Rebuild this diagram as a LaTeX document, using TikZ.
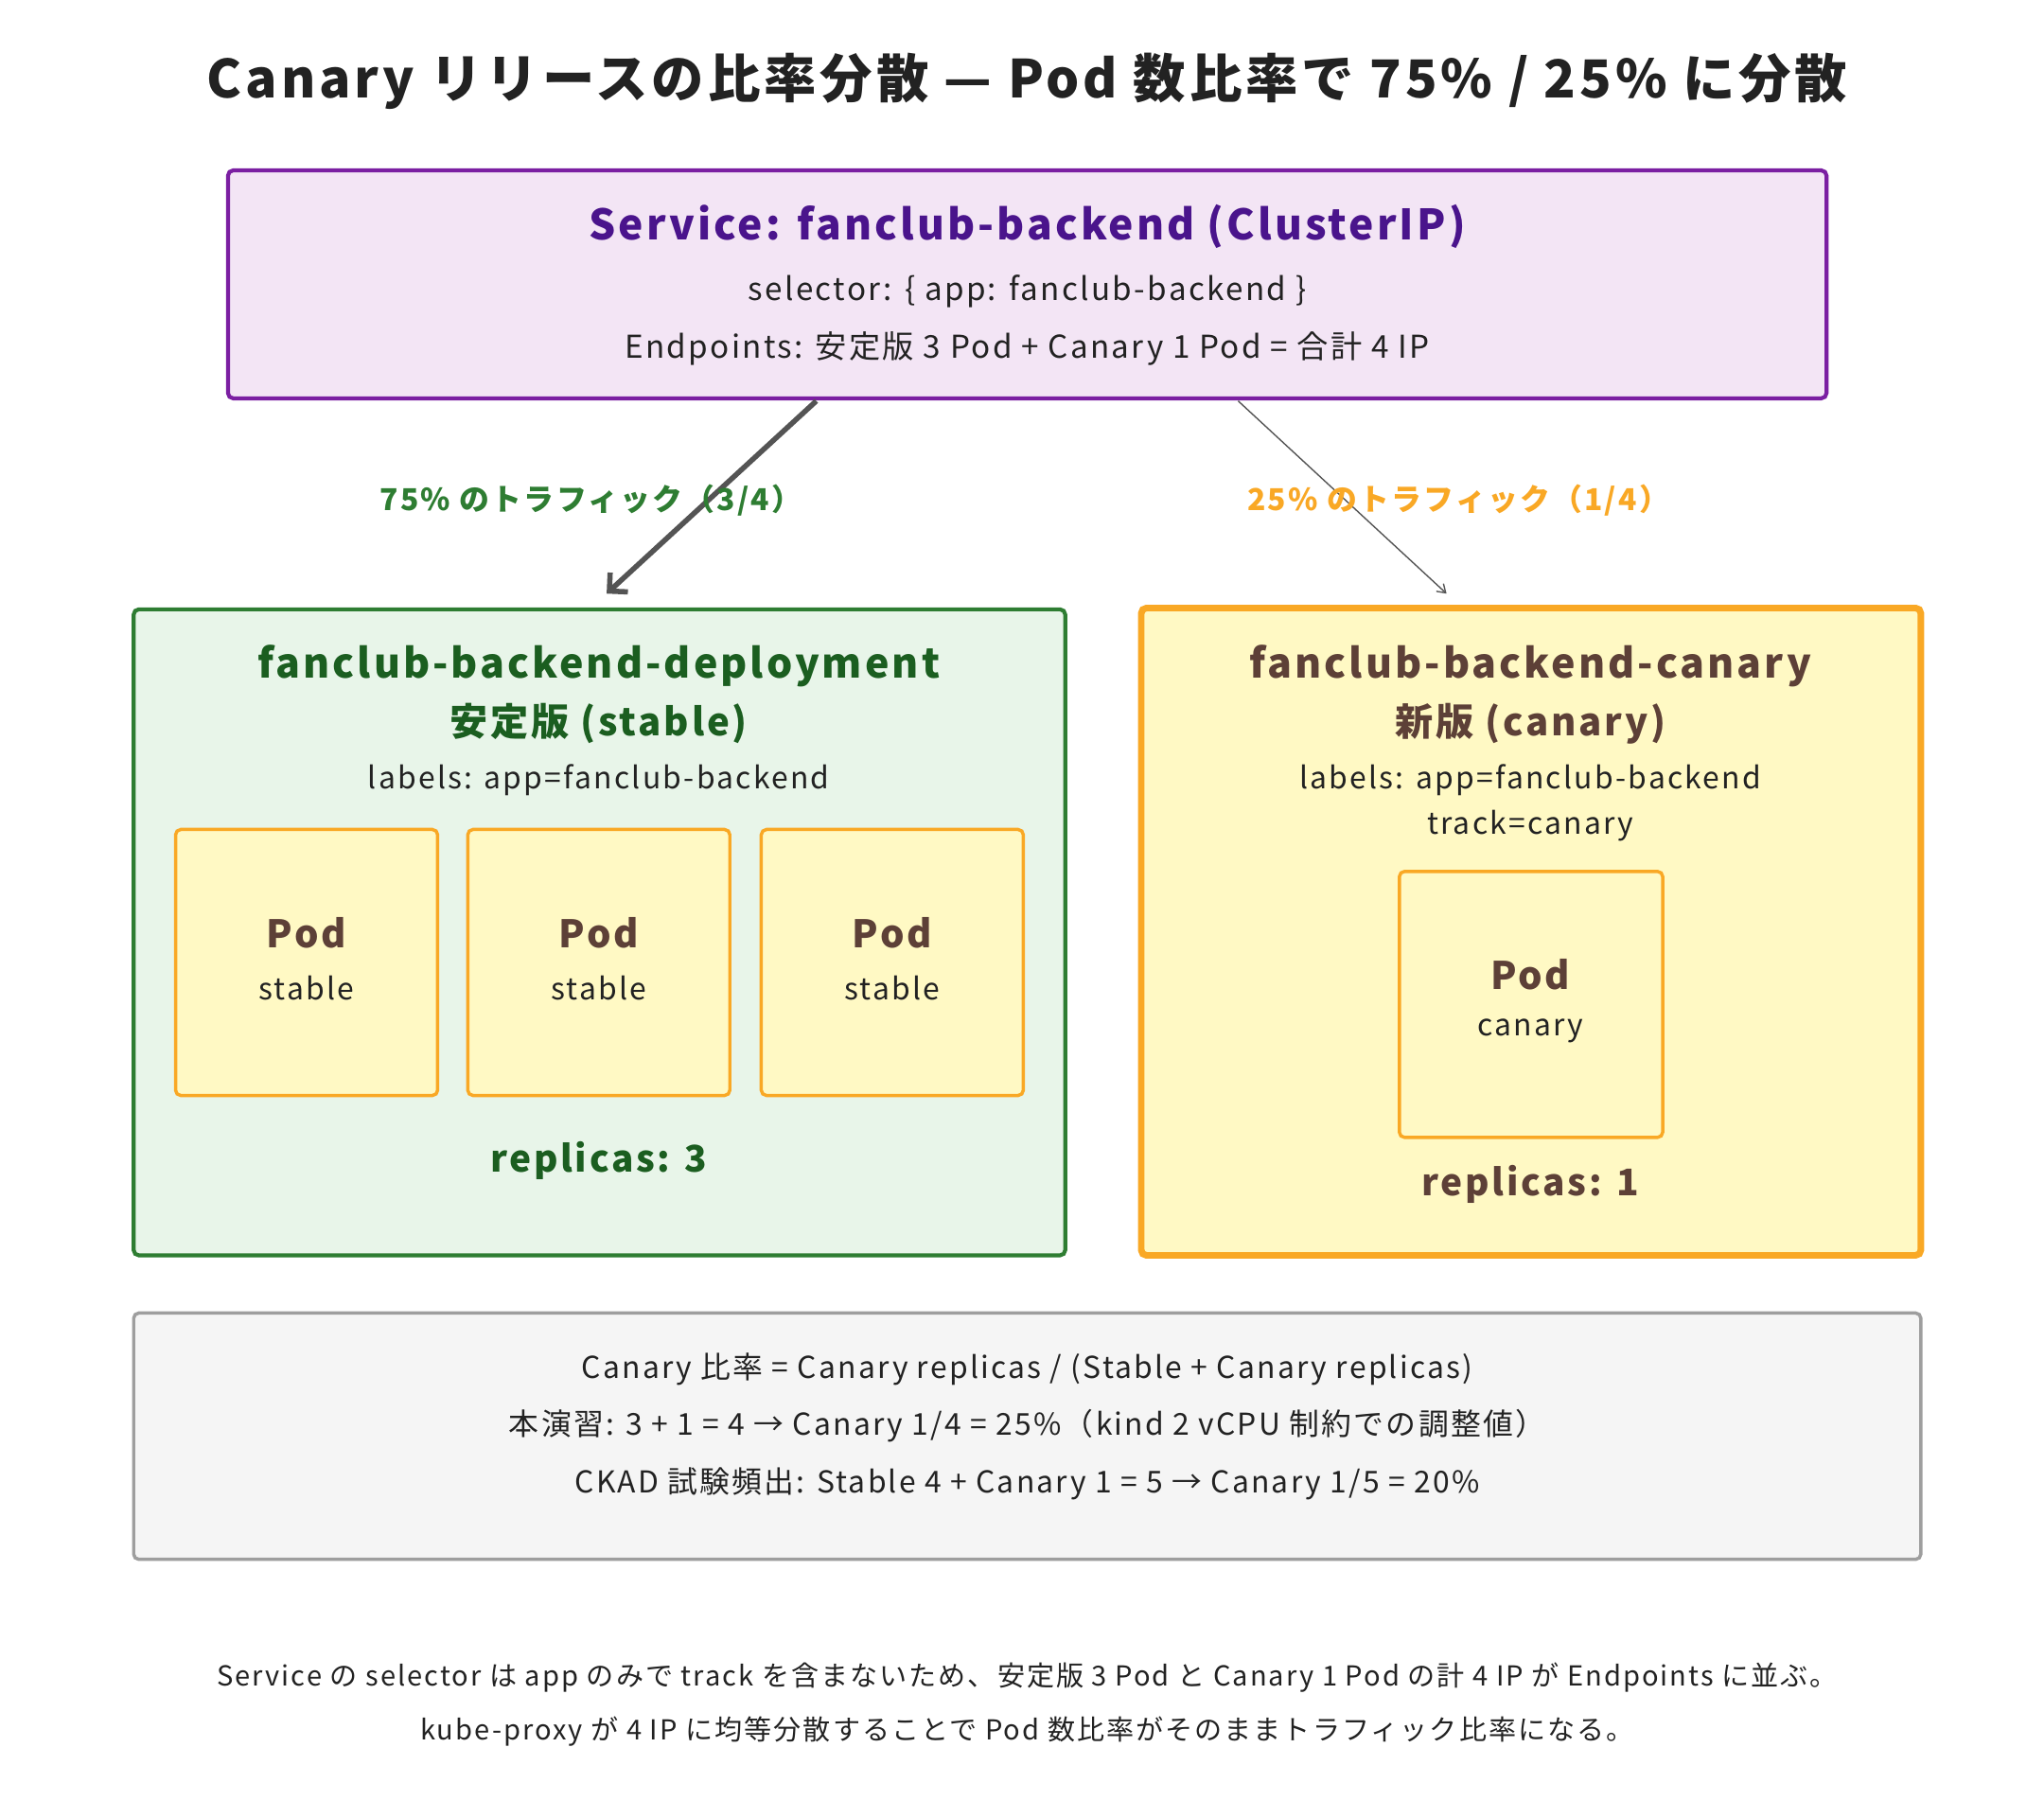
\documentclass[tikz,border=0pt]{standalone}
\usepackage{fontspec}
\setmainfont[LetterSpace=7]{Noto Sans CJK JP}
\usetikzlibrary{arrows.meta}
\definecolor{svcfill}{HTML}{F3E5F5}\definecolor{svcdraw}{HTML}{7B1FA2}\definecolor{svctext}{HTML}{4A148C}
\definecolor{stfill}{HTML}{E8F5E9}\definecolor{stdraw}{HTML}{2E7D32}\definecolor{sttext}{HTML}{1B5E20}
\definecolor{podfill}{HTML}{FFF9C4}\definecolor{poddraw}{HTML}{F9A825}\definecolor{brown}{HTML}{5D4037}
\definecolor{orng}{HTML}{F9A825}\definecolor{grayfill}{HTML}{F5F5F5}\definecolor{graydraw}{HTML}{9E9E9E}
\definecolor{txt}{HTML}{222222}
\tikzset{
 box/.style={rounded corners=4pt},
 podbox/.style={box,fill=podfill,draw=poddraw,line width=2.5pt},
 f/.style={font=\fontsize{#1}{#1}\selectfont,text=txt},
 fb/.style={font=\fontsize{#1}{#1}\selectfont\bfseries},
}
\begin{document}
\begin{tikzpicture}[x=1pt,y=-1pt]
\useasboundingbox[fill=white] (0,0) rectangle (1560,1387);
\node[fb=40,text=txt] (title) at (784,62) {Canary リリースの比率分散 — Pod 数比率で 75\% / 25\% に分散};
% service
\draw[box,fill=svcfill,draw=svcdraw,line width=3pt] (174,130) rectangle (1394,304);
\coordinate (s1) at (623,306); \coordinate (s2) at (945,306);
\node[fb=32,text=svctext] (st) at (784,173) {Service: fanclub-backend (ClusterIP)};
\node[f=24] (ss) at (784,222) {selector: \{ app: fanclub-backend \}};
\node[f=24] (se) at (784,266) {Endpoints: 安定版 3 Pod + Canary 1 Pod = 合計 4 IP};
% stable
\draw[box,fill=stfill,draw=stdraw,line width=3pt] (102,465) rectangle (813,958);
\coordinate (t1) at (463,453);
\node[fb=31,text=sttext] (dt) at (457,508) {fanclub-backend-deployment};
\node[fb=29,text=sttext] (dt2) at (457,552) {安定版 (stable)};
\node[f=23] (dl) at (457,595) {labels: app=fanclub-backend};
\foreach \x/\n in {134/a,357/b,581/c}{
 \draw[podbox] (\x,633) rectangle (\x+200,836);
 \node[fb=29,text=brown] (p\n) at (\x+100,712) {Pod};
 \node[f=23] (q\n) at (\x+100,754) {stable};
}
\node[fb=28,text=sttext] (r3) at (457,886) {replicas: 3};
% canary
\draw[box,fill=podfill,draw=orng,line width=5pt] (871,464) rectangle (1466,958);
\coordinate (t2) at (1104,453);
\node[fb=31,text=brown] (ct) at (1168,508) {fanclub-backend-canary};
\node[fb=29,text=brown] (ct2) at (1168,552) {新版 (canary)};
\node[f=23] (cl) at (1168,595) {labels: app=fanclub-backend};
\node[f=23] (cl2) at (1168,630) {track=canary};
\draw[podbox] (1068,665) rectangle (1269,868);
\node[fb=29,text=brown] (pd) at (1168,744) {Pod};
\node[f=23] (qd) at (1168,787) {canary};
\node[fb=28,text=brown] (r1) at (1168,904) {replicas: 1};
% arrows
\draw[-{Straight Barb[length=10pt,width=20pt]},draw=black!67,line width=4pt] (s1) -- (t1);
\draw[-{Straight Barb[length=6pt,width=8pt]},draw=black!67,line width=1pt] (s2) -- (t2);
\node[fb=23,text=stdraw] (l1) at (451,382) {75\% のトラフィック（3/4）};
\node[fb=23,text=orng] (l2) at (1113,382) {25\% のトラフィック（1/4）};
% formula
\draw[box,fill=grayfill,draw=graydraw,line width=2.5pt] (102,1002) rectangle (1466,1190);
\node[f=23] (m1) at (784,1045) {Canary 比率 = Canary replicas / (Stable + Canary replicas)};
\node[f=23] (m2) at (784,1088) {本演習: 3 + 1 = 4 → Canary 1/4 = 25\%（kind 2 vCPU 制約での調整値）};
\node[f=23] (m3) at (784,1132) {CKAD 試験頻出: Stable 4 + Canary 1 = 5 → Canary 1/5 = 20\%};
% footer
\node[f=21] (n1) at (784,1280) {Service の selector は app のみで track を含まないため、安定版 3 Pod と Canary 1 Pod の計 4 IP が Endpoints に並ぶ。};
\node[f=21] (n2) at (784,1321) {kube-proxy が 4 IP に均等分散することで Pod 数比率がそのままトラフィック比率になる。};
\end{tikzpicture}
\end{document}
